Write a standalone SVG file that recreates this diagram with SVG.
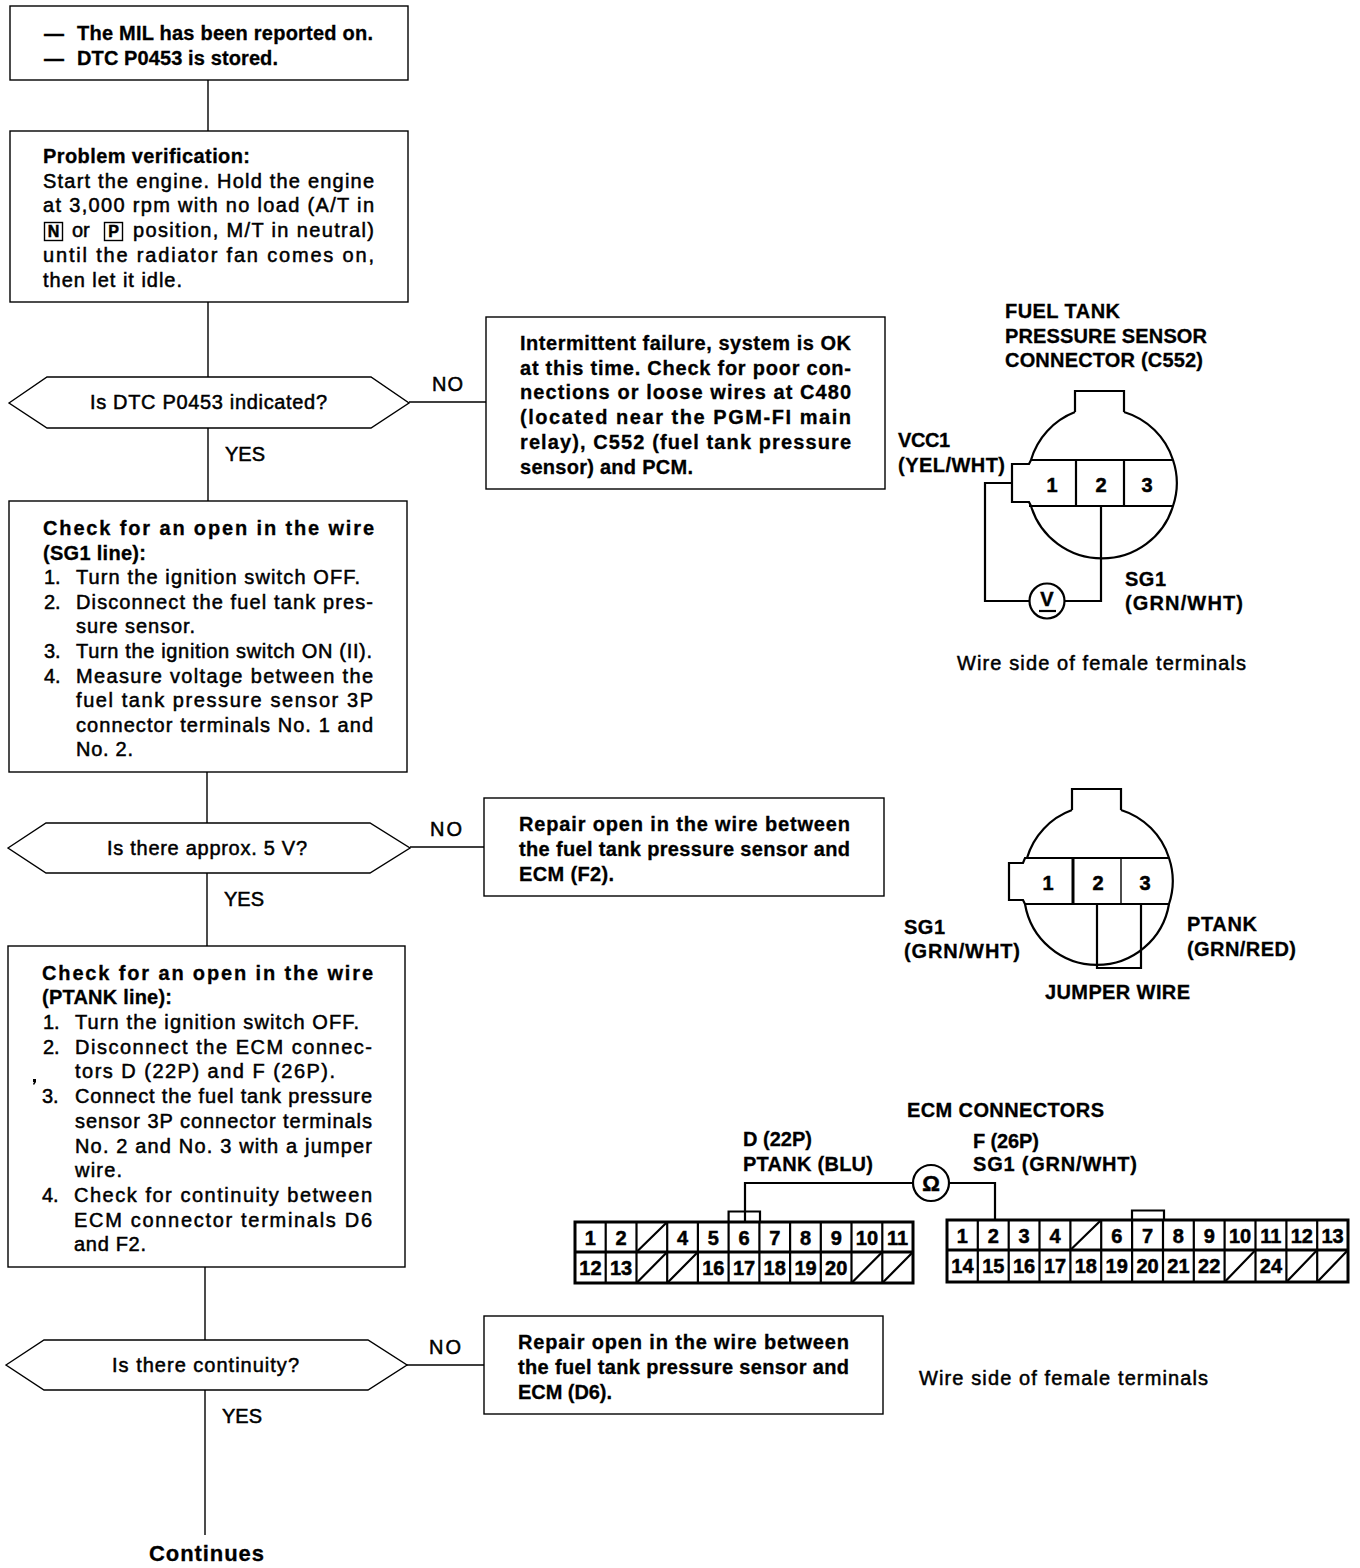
<svg xmlns="http://www.w3.org/2000/svg" width="1360" height="1568" viewBox="0 0 1360 1568">
<style>
text{font-family:"Liberation Sans",Arial,sans-serif;font-size:20px;fill:#000}
.r{stroke:#000;stroke-width:.5px}
.b{font-weight:bold;stroke:#000;stroke-width:.3px}
.m{text-anchor:middle;font-weight:bold;stroke:#000;stroke-width:.5px}
.s{fill:#fff;stroke:#000;stroke-width:1.4px}
.l{fill:none;stroke:#000;stroke-width:1.4px}
.k{fill:none;stroke:#000;stroke-width:2.2px}
.h{fill:none;stroke:#000;stroke-width:3px}
</style>
<rect width="1360" height="1568" fill="#fff"/>
<g id="connectors">
<path class="l" d="M208 80V131M208 302V377M208 428V501M409 402H486M207 772V823M207 873V946M410 847H484M205 1267V1340M205 1390V1535M407 1365H484"/>
<path class="k" d="M1012 483H985V601H1030M1064 601H1101V506"/>
<path class="k" d="M1097 904V968H1141V904"/>
<path class="k" d="M745 1222V1183H913M949 1183H995V1220"/>
</g>
<g id="start">
<rect class="s" x="10" y="6" width="398" height="74"/>
<text class="b" x="44" y="40" textLength="21">—</text><text class="b" x="77" y="40" textLength="296">The MIL has been reported on.</text>
<text class="b" x="44" y="65" textLength="21">—</text><text class="b" x="77" y="65" textLength="201">DTC P0453 is stored.</text>
</g>
<g id="verify">
<rect class="s" x="10" y="131" width="398" height="171"/>
<text class="b" x="43" y="163" textLength="207">Problem verification:</text>
<text class="r" x="43" y="188" textLength="331">Start the engine. Hold the engine</text>
<text class="r" x="43" y="212" textLength="331">at 3,000 rpm with no load (A/T in</text>
<rect class="l" x="44.500" y="222.500" width="18" height="18"/><text class="m" x="53.500" y="237" style="font-size:16px">N</text>
<text class="r" x="72" y="237">or</text>
<rect class="l" x="104.500" y="222.500" width="18" height="18"/><text class="m" x="113.500" y="237" style="font-size:16px">P</text>
<text class="r" x="133" y="237" textLength="241">position, M/T in neutral)</text>
<text class="r" x="43" y="262" textLength="331">until the radiator fan comes on,</text>
<text class="r" x="43" y="287" textLength="139">then let it idle.</text>
</g>
<g id="decision1">
<polygon class="s" points="9,403 47,377 371,377 409,403 371,428 47,428"/>
<text class="r" x="90" y="409" textLength="237">Is DTC P0453 indicated?</text>
<text class="r" x="432" y="391" textLength="31">NO</text>
<text class="r" x="225" y="461" textLength="40">YES</text>
</g>
<g id="intermittent">
<rect class="s" x="486" y="317" width="399" height="172"/>
<text class="b" x="520" y="350" textLength="331">Intermittent failure, system is OK</text>
<text class="b" x="520" y="375" textLength="331">at this time. Check for poor con-</text>
<text class="b" x="520" y="399" textLength="331">nections or loose wires at C480</text>
<text class="b" x="520" y="424" textLength="331">(located near the PGM-FI main</text>
<text class="b" x="520" y="449" textLength="331">relay), C552 (fuel tank pressure</text>
<text class="b" x="520" y="474" textLength="173">sensor) and PCM.</text>
</g>
<g id="check-sg1">
<rect class="s" x="9" y="501" width="398" height="271"/>
<text class="b" x="43" y="535" textLength="331">Check for an open in the wire</text>
<text class="b" x="43" y="560" textLength="103">(SG1 line):</text>
<text class="r" x="44" y="584">1.</text><text class="r" x="76" y="584" textLength="284">Turn the ignition switch OFF.</text>
<text class="r" x="44" y="609">2.</text><text class="r" x="76" y="609" textLength="297">Disconnect the fuel tank pres-</text>
<text class="r" x="76" y="633" textLength="119">sure sensor.</text>
<text class="r" x="44" y="658">3.</text><text class="r" x="76" y="658" textLength="296">Turn the ignition switch ON (II).</text>
<text class="r" x="44" y="683">4.</text><text class="r" x="76" y="683" textLength="297">Measure voltage between the</text>
<text class="r" x="76" y="707" textLength="297">fuel tank pressure sensor 3P</text>
<text class="r" x="76" y="732" textLength="297">connector terminals No. 1 and</text>
<text class="r" x="76" y="756" textLength="57">No. 2.</text>
</g>
<g id="decision2">
<polygon class="s" points="8,848 46,823 370,823 410,848 370,873 46,873"/>
<text class="r" x="107" y="855" textLength="200">Is there approx. 5 V?</text>
<text class="r" x="430" y="836" textLength="32">NO</text>
<text class="r" x="224" y="906" textLength="40">YES</text>
</g>
<g id="repair-f2">
<rect class="s" x="484" y="798" width="400" height="98"/>
<text class="b" x="519" y="831" textLength="331">Repair open in the wire between</text>
<text class="b" x="519" y="856" textLength="331">the fuel tank pressure sensor and</text>
<text class="b" x="519" y="881" textLength="95">ECM (F2).</text>
</g>
<g id="check-ptank">
<rect class="s" x="8" y="946" width="397" height="321"/>
<text class="b" x="42" y="980" textLength="331">Check for an open in the wire</text>
<text class="b" x="42" y="1004" textLength="130">(PTANK line):</text>
<text class="r" x="43" y="1029">1.</text><text class="r" x="75" y="1029" textLength="284">Turn the ignition switch OFF.</text>
<text class="r" x="43" y="1054">2.</text><text class="r" x="75" y="1054" textLength="297">Disconnect the ECM connec-</text>
<text class="r" x="75" y="1078" textLength="260">tors D (22P) and F (26P).</text>
<path d="M33 1079h3v3l-2 3-1-1 1-2h-1z"/>
<text class="r" x="42" y="1103">3.</text><text class="r" x="75" y="1103" textLength="297">Connect the fuel tank pressure</text>
<text class="r" x="75" y="1128" textLength="297">sensor 3P connector terminals</text>
<text class="r" x="75" y="1153" textLength="297">No. 2 and No. 3 with a jumper</text>
<text class="r" x="75" y="1177" textLength="47">wire.</text>
<text class="r" x="42" y="1202">4.</text><text class="r" x="74" y="1202" textLength="298">Check for continuity between</text>
<text class="r" x="74" y="1227" textLength="298">ECM connector terminals D6</text>
<text class="r" x="74" y="1251" textLength="72">and F2.</text>
</g>
<g id="decision3">
<polygon class="s" points="6,1365 44,1340 368,1340 407,1365 368,1390 44,1390"/>
<text class="r" x="112" y="1372" textLength="187">Is there continuity?</text>
<text class="r" x="429" y="1354" textLength="32">NO</text>
<text class="r" x="222" y="1423" textLength="40">YES</text>
</g>
<g id="repair-d6">
<rect class="s" x="484" y="1316" width="399" height="98"/>
<text class="b" x="518" y="1349" textLength="331">Repair open in the wire between</text>
<text class="b" x="518" y="1374" textLength="331">the fuel tank pressure sensor and</text>
<text class="b" x="518" y="1399" textLength="94">ECM (D6).</text>
</g>
<g id="continues"><text class="b" x="149" y="1561" textLength="115" style="font-size:22px">Continues</text></g>
<g id="sensor-voltage">
<path class="k" d="M1075 412V391H1124V412M1031 460A74 73 0 0 1 1075 412M1124 412A74 73 0 0 1 1173 460A74 73 0 0 1 1173 506A74 73 0 0 1 1031 506L1029 502H1012V464H1029L1031 460H1173M1029 506H1173"/>
<path class="k" d="M1076 460V506M1124 460V506"/>
<text class="m" x="1052" y="492">1</text><text class="m" x="1101" y="492">2</text><text class="m" x="1147" y="492">3</text>
<circle class="k" cx="1047" cy="601" r="17.500"/><text class="m" x="1047" y="606">V</text><path class="k" d="M1039 611H1056"/>
<text class="b" x="1005" y="318" textLength="115">FUEL TANK</text>
<text class="b" x="1005" y="343" textLength="202">PRESSURE SENSOR</text>
<text class="b" x="1005" y="367" textLength="198">CONNECTOR (C552)</text>
<text class="b" x="898" y="447" textLength="52">VCC1</text>
<text class="b" x="898" y="472" textLength="107">(YEL/WHT)</text>
<text class="b" x="1125" y="586" textLength="41">SG1</text>
<text class="b" x="1125" y="610" textLength="118">(GRN/WHT)</text>
<text class="r" x="957" y="670" textLength="289">Wire side of female terminals</text>
</g>
<g id="sensor-jumper">
<path class="k" d="M1072 810V789H1121V810M1027 858A73 73 0 0 1 1072 810M1121 810A73 73 0 0 1 1169 858A73 73 0 0 1 1169 904A73 73 0 0 1 1025 904L1023 900H1009V863H1023L1025 858H1169M1025 904H1169"/>
<path class="h" d="M1073 858V904"/><path class="l" d="M1121 858V904"/>
<text class="m" x="1048" y="890">1</text><text class="m" x="1098" y="890">2</text><text class="m" x="1145" y="890">3</text>
<text class="b" x="904" y="934" textLength="41">SG1</text>
<text class="b" x="904" y="958" textLength="116">(GRN/WHT)</text>
<text class="b" x="1187" y="931" textLength="70">PTANK</text>
<text class="b" x="1187" y="956" textLength="109">(GRN/RED)</text>
<text class="b" x="1045" y="999" textLength="145">JUMPER WIRE</text>
</g>
<g id="ecm-labels">
<text class="b" x="907" y="1117" textLength="197">ECM CONNECTORS</text>
<text class="b" x="743" y="1146" textLength="69">D (22P)</text>
<text class="b" x="743" y="1171" textLength="130">PTANK (BLU)</text>
<text class="b" x="973" y="1148" textLength="66">F (26P)</text>
<text class="b" x="973" y="1171" textLength="164">SG1 (GRN/WHT)</text>
<circle class="k" cx="931" cy="1183" r="18"/><text class="m" x="931" y="1191" style="font-size:22px">Ω</text>
<text class="r" x="919" y="1385" textLength="289">Wire side of female terminals</text>
</g>
<g id="ecm-d">
<path class="k" d="M728.600 1222V1211.500H760V1222"/>
<rect class="h" x="575" y="1222" width="338" height="61"/>
<path class="h" d="M575 1252H913"/>
<path class="k" d="M605.700 1222V1283M636.500 1222V1283M667.200 1222V1283M697.900 1222V1283M728.600 1222V1283M759.400 1222V1283M790.100 1222V1283M820.800 1222V1283M851.500 1222V1283M882.300 1222V1283"/>
<path class="k" d="M636.500 1252L667.200 1222M636.500 1283L667.200 1252M667.200 1283L697.900 1252M851.500 1283L882.300 1252M882.300 1283L913 1252"/>
<text class="m" x="590.400" y="1245">1</text><text class="m" x="621.100" y="1245">2</text><text class="m" x="682.600" y="1245">4</text><text class="m" x="713.300" y="1245">5</text><text class="m" x="744" y="1245">6</text><text class="m" x="774.700" y="1245">7</text><text class="m" x="805.500" y="1245">8</text><text class="m" x="836.200" y="1245">9</text><text class="m" x="866.900" y="1245">10</text><text class="m" x="897.600" y="1245">11</text>
<text class="m" x="590.400" y="1275">12</text><text class="m" x="621.100" y="1275">13</text><text class="m" x="713.300" y="1275">16</text><text class="m" x="744" y="1275">17</text><text class="m" x="774.700" y="1275">18</text><text class="m" x="805.500" y="1275">19</text><text class="m" x="836.200" y="1275">20</text>
</g>
<g id="ecm-f">
<path class="k" d="M1132 1220V1210.500H1164V1220"/>
<rect class="h" x="947" y="1220" width="401" height="62"/>
<path class="h" d="M947 1250H1348"/>
<path class="k" d="M977.800 1220V1282M1008.700 1220V1282M1039.500 1220V1282M1070.400 1220V1282M1101.200 1220V1282M1132.100 1220V1282M1163 1220V1282M1193.800 1220V1282M1224.600 1220V1282M1255.500 1220V1282M1286.400 1220V1282M1317.200 1220V1282"/>
<path class="k" d="M1070.400 1250L1101.200 1220M1224.600 1282L1255.500 1250M1286.400 1282L1317.200 1250M1317.200 1282L1348 1250"/>
<text class="m" x="962.400" y="1243">1</text><text class="m" x="993.300" y="1243">2</text><text class="m" x="1024.100" y="1243">3</text><text class="m" x="1055" y="1243">4</text><text class="m" x="1116.700" y="1243">6</text><text class="m" x="1147.500" y="1243">7</text><text class="m" x="1178.400" y="1243">8</text><text class="m" x="1209.200" y="1243">9</text><text class="m" x="1240" y="1243">10</text><text class="m" x="1270.900" y="1243">11</text><text class="m" x="1301.800" y="1243">12</text><text class="m" x="1332.600" y="1243">13</text>
<text class="m" x="962.400" y="1273">14</text><text class="m" x="993.300" y="1273">15</text><text class="m" x="1024.100" y="1273">16</text><text class="m" x="1055" y="1273">17</text><text class="m" x="1085.800" y="1273">18</text><text class="m" x="1116.700" y="1273">19</text><text class="m" x="1147.500" y="1273">20</text><text class="m" x="1178.400" y="1273">21</text><text class="m" x="1209.200" y="1273">22</text><text class="m" x="1270.900" y="1273">24</text>
</g>
</svg>
